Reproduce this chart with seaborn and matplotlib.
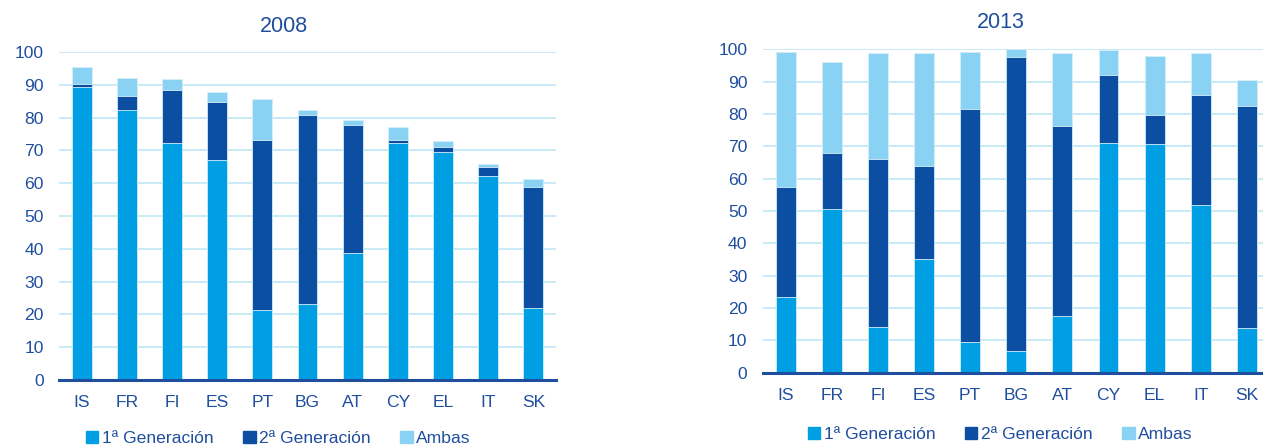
import numpy as np
import pandas as pd
import matplotlib
matplotlib.use("Agg")
import matplotlib.pyplot as plt
import matplotlib.patches as mpatches
import seaborn as sns

# ------------------------------#
# Data
countries = ["IS", "FR", "FI", "ES", "PT", "BG", "AT", "CY", "EL", "IT", "SK"]
series_names = ["1ª Generación", "2ª Generación", "Ambas"]

gen1_2008 = [89.2, 82.2, 72.3, 67.0, 21.3, 23.1, 38.7, 72.3, 69.6, 62.2, 22.0]
gen2_2008 = [0.9, 4.3, 16.0, 17.8, 51.9, 57.8, 38.9, 0.8, 1.4, 2.8, 36.8]
both_2008 = [5.3, 5.5, 3.4, 2.9, 12.6, 1.3, 1.8, 4.0, 1.9, 0.9, 2.5]

gen1_2013 = [23.5, 50.5, 14.1, 35.3, 9.5, 6.6, 17.4, 71.0, 70.6, 51.9, 13.9]
gen2_2013 = [34.0, 17.3, 52.1, 28.6, 71.9, 90.9, 58.9, 21.0, 9.2, 34.1, 68.5]
both_2013 = [41.8, 28.4, 32.7, 35.1, 17.7, 2.5, 22.7, 7.8, 18.1, 12.8, 8.0]

yticks = list(range(0, 101, 10))

# ------------------------------#
# Styling
col_gen1 = "#009FE3"
col_gen2 = "#0B4EA2"
col_both = "#8AD2F3"
col_text = "#1F4E9E"
col_grid = "#C4E8F7"
colors = [col_gen1, col_gen2, col_both]
fs = 12.6

sns.set_style("white")
plt.rcParams["font.family"] = ["Liberation Sans", "DejaVu Sans"]

fig = plt.figure(figsize=(12.63, 4.46), dpi=100)
ax_left = fig.add_axes([0.0467, 0.148, 0.3935, 0.7354])
ax_right = fig.add_axes([0.6038, 0.1643, 0.4017, 0.7251])


def plot_stacked(ax, gen1, gen2, both, bar_width):
    df = pd.DataFrame(
        {"country": countries, "g1": gen1, "g2": gen2, "b": both}
    )
    df["c1"] = df["g1"]
    df["c2"] = df["g1"] + df["g2"]
    df["c3"] = df["c2"] + df["b"]

    # draw back to front so each segment sits on top of the previous one
    for col, color in zip(["c3", "c2", "c1"], [col_both, col_gen2, col_gen1]):
        sns.barplot(
            data=df, x="country", y=col, color=color, ax=ax,
            width=bar_width, saturation=1, edgecolor="#d6eef9",
            linewidth=0.6, zorder=3,
        )

    ax.set_ylim(0, 100)
    ax.set_xlim(-0.5, len(countries) - 0.5)
    ax.set_yticks(yticks)
    ax.set_xlabel("")
    ax.set_ylabel("")
    ax.grid(axis="y", color=col_grid, linewidth=1.3, zorder=0)
    ax.set_axisbelow(True)
    for side in ["top", "right", "left"]:
        ax.spines[side].set_visible(False)
    ax.spines["bottom"].set_color(col_text)
    ax.spines["bottom"].set_linewidth(2.2)
    ax.spines["bottom"].set_zorder(5)

    ax.tick_params(axis="y", length=0, pad=11, labelsize=fs, labelcolor=col_text)
    ax.tick_params(axis="x", which="major", length=0, pad=11,
                   labelsize=fs, labelcolor=col_text)
    ax.set_xticks(np.arange(-0.5, len(countries), 1.0), minor=True)
    ax.tick_params(axis="x", which="minor", length=5, width=2.2,
                   color=col_text, direction="out")


plot_stacked(ax_left, gen1_2008, gen2_2008, both_2008, 0.44)
plot_stacked(ax_right, gen1_2013, gen2_2013, both_2013, 0.43)

# Titles
fig.text(0.2249, 0.9417, "2008", ha="center", va="center",
         fontsize=15.5, color=col_text)
fig.text(0.7924, 0.9496, "2013", ha="center", va="center",
         fontsize=15.5, color=col_text)

# Legends
handles = [mpatches.Patch(color=c, label=n) for c, n in zip(colors, series_names)]
for xc, yc in [(0.2205, 0.016), (0.792, 0.025)]:
    fig.legend(
        handles=handles, loc="center", bbox_to_anchor=(xc, yc), ncol=3,
        frameon=False, fontsize=fs, labelcolor=col_text,
        handlelength=0.7, handleheight=0.7, handletextpad=0.2,
        columnspacing=1.7, borderaxespad=0, borderpad=0,
    )

fig.savefig("out.png", dpi=100)
